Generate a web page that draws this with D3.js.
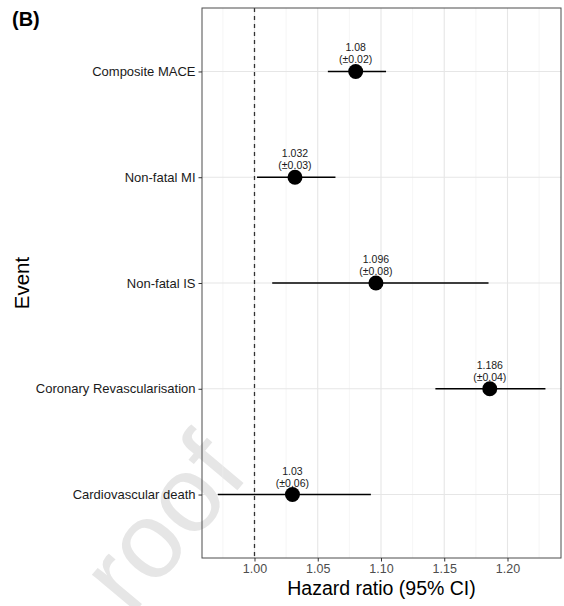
<!DOCTYPE html>
<html><head><meta charset="utf-8">
<script src="https://cdn.jsdelivr.net/npm/d3@7"></script>
<style>body{margin:0;background:#fff}svg{display:block}text{font-family:"Liberation Sans",Arial,sans-serif}</style>
</head><body>
<script>
const events = ["Composite MACE","Non-fatal MI","Non-fatal IS","Coronary Revascularisation","Cardiovascular death"];
const hr = [1.08, 1.032, 1.096, 1.186, 1.03];
const lower = [1.058, 1.002, 1.014, 1.143, 0.971];
const upper = [1.104, 1.064, 1.185, 1.230, 1.092];
const pm = ["±0.02","±0.03","±0.08","±0.04","±0.06"];
const xTicks = [1.00, 1.05, 1.10, 1.15, 1.20];
const xMinor = [0.975, 1.025, 1.075, 1.125, 1.175, 1.225];

const W = 564, H = 606;
const m = {l: 202, r: 3, t: 8, b: 48};
const svg = d3.select("body").append("svg").attr("width", W).attr("height", H);

// watermark
svg.append("text").attr("transform","translate(131,617) rotate(-50)")
  .attr("font-size",108).attr("fill","#e6e6e6").text("roof");

const x = d3.scaleLinear().domain([0.9585, 1.2423]).range([m.l, W - m.r]);
const y = d3.scalePoint().domain(events).range([m.t, H - m.b]).padding(0.6);

const g = svg.append("g");
// grid
g.selectAll(".mn").data(xMinor).join("line")
  .attr("x1", d => x(d)).attr("x2", d => x(d)).attr("y1", m.t).attr("y2", H - m.b)
  .attr("stroke", "#f0f0f0").attr("stroke-width", 0.6);
g.selectAll(".mj").data(xTicks).join("line")
  .attr("x1", d => x(d)).attr("x2", d => x(d)).attr("y1", m.t).attr("y2", H - m.b)
  .attr("stroke", "#e6e6e6").attr("stroke-width", 1.1);
g.selectAll(".hy").data(events).join("line")
  .attr("x1", m.l).attr("x2", W - m.r).attr("y1", d => y(d)).attr("y2", d => y(d))
  .attr("stroke", "#e6e6e6").attr("stroke-width", 1.1);

// reference line
g.append("line").attr("x1", x(1)).attr("x2", x(1)).attr("y1", m.t).attr("y2", H - m.b)
  .attr("stroke", "#333").attr("stroke-width", 1.3).attr("stroke-dasharray", "4,4");

// CI lines
g.selectAll(".ci").data(events).join("line")
  .attr("x1", (d,i) => x(lower[i])).attr("x2", (d,i) => x(upper[i]))
  .attr("y1", d => y(d)).attr("y2", d => y(d))
  .attr("stroke", "#000").attr("stroke-width", 1.5);
g.selectAll(".pt").data(events).join("circle")
  .attr("cx", (d,i) => x(hr[i])).attr("cy", d => y(d)).attr("r", 7.5).attr("fill", "#000");

// labels
const lab = g.selectAll(".lb").data(events).join("text")
  .attr("text-anchor", "middle").attr("font-size", 10.5).attr("fill", "#1a1a1a");
lab.append("tspan").attr("x", (d,i) => x(hr[i])).attr("y", d => y(d) - 20).text((d,i) => String(hr[i]));
lab.append("tspan").attr("x", (d,i) => x(hr[i])).attr("y", d => y(d) - 8).text((d,i) => "(" + pm[i] + ")");

// border
svg.append("rect").attr("x", m.l).attr("y", m.t).attr("width", W - m.r - m.l).attr("height", H - m.b - m.t)
  .attr("fill", "none").attr("stroke", "#4d4d4d").attr("stroke-width", 1);

// axes
const xa = svg.append("g").attr("transform", `translate(0,${H - m.b})`)
  .call(d3.axisBottom(x).tickValues(xTicks).tickFormat(d3.format(".2f")).tickSize(3.5).tickPadding(3));
xa.select(".domain").remove();
xa.selectAll("line").attr("stroke", "#333");
xa.selectAll("text").attr("font-size", 12.5).attr("fill", "#4d4d4d").attr("font-family", "Liberation Sans, Arial, sans-serif");

const ya = svg.append("g").attr("transform", `translate(${m.l},0)`)
  .call(d3.axisLeft(y).tickSize(3.5).tickPadding(3));
ya.select(".domain").remove();
ya.selectAll("line").attr("stroke", "#333");
ya.selectAll("text").attr("font-size", 13).attr("fill", "#1a1a1a").attr("font-family", "Liberation Sans, Arial, sans-serif");

svg.append("text").attr("x", (m.l + W - m.r) / 2).attr("y", 595).attr("text-anchor", "middle")
  .attr("font-size", 19.5).attr("fill", "#000").text("Hazard ratio (95% CI)");
svg.append("text").attr("transform", `translate(29,${(m.t + H - m.b) / 2}) rotate(-90)`)
  .attr("text-anchor", "middle").attr("font-size", 20.5).attr("fill", "#000").text("Event");
svg.append("text").attr("x", 12).attr("y", 26).attr("font-size", 20).attr("font-weight", "bold")
  .attr("fill", "#000").text("(B)");
</script>
</body></html>
